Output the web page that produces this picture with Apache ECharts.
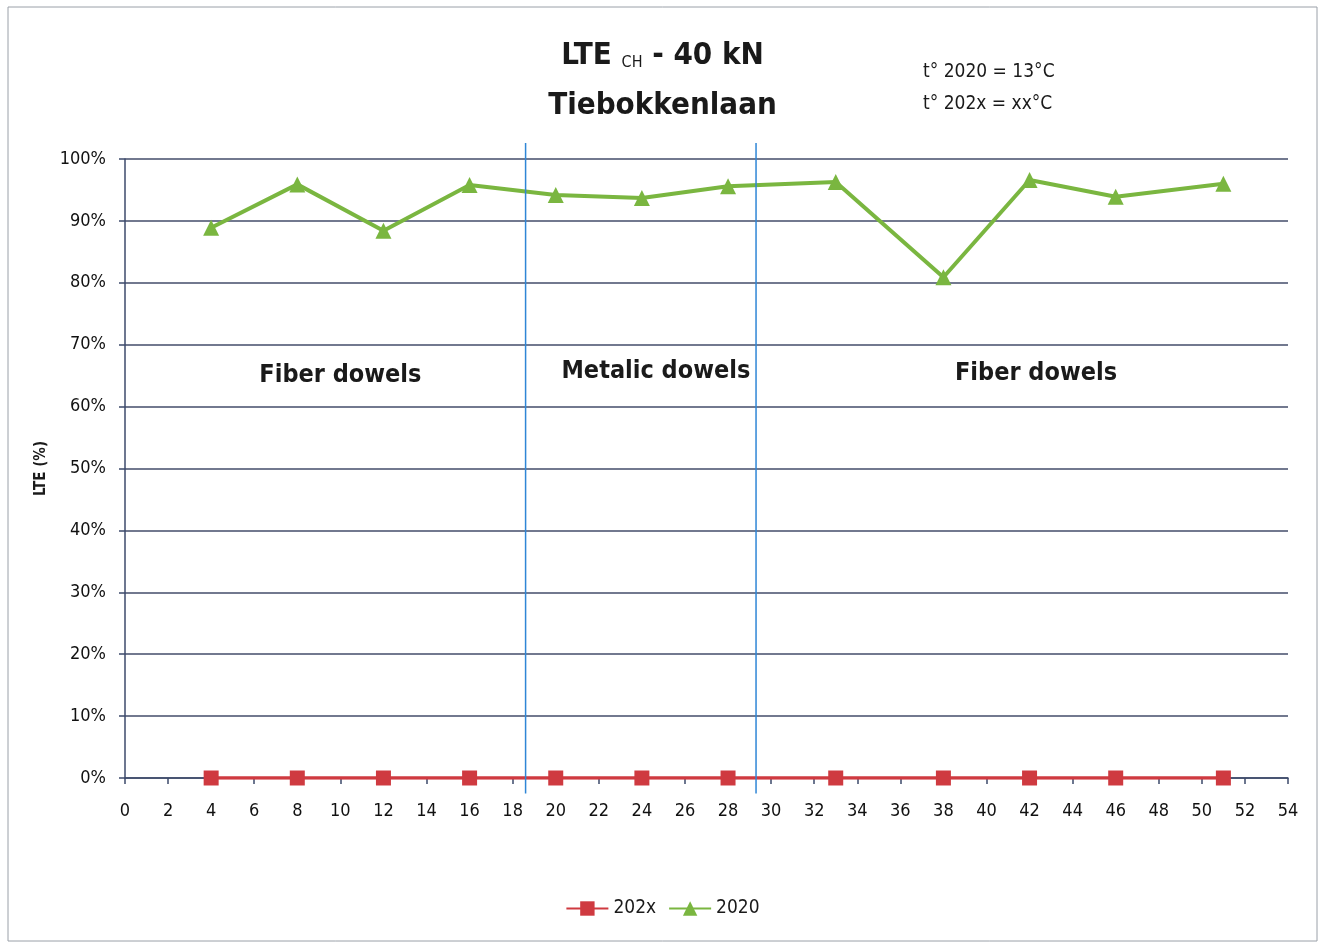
<!DOCTYPE html>
<html>
<head>
<meta charset="utf-8">
<script src="https://cdn.jsdelivr.net/npm/echarts@6/dist/echarts.min.js"></script>
<style>html,body{margin:0;padding:0;background:#fff}#c{width:1325px;height:945px}</style>
</head>
<body>
<div id="c"></div>
<script>
const xPositions = [4, 8, 12, 16, 20, 24, 28, 33, 38, 42, 46, 51];
const values202x = [0, 0, 0, 0, 0, 0, 0, 0, 0, 0, 0, 0];
const values2020 = [88.9, 95.9, 88.4, 95.8, 94.2, 93.7, 95.6, 96.3, 80.9, 96.6, 93.9, 96.0];
const dividers = [18.6, 29.3];
const zoneLabels = [
  { text: 'Fiber dowels', x: 10, y: 65 },
  { text: 'Metalic dowels', x: 24.65, y: 65.6 },
  { text: 'Fiber dowels', x: 42.3, y: 65.3 }
];
const seriesNames = ['202x', '2020'];

const narrow = "'DejaVu Sans Condensed', 'Liberation Sans Narrow', sans-serif";
const chart = echarts.init(document.getElementById('c'));
const pair = (xs, ys) => xs.map((x, i) => [x, ys[i]]);

chart.setOption({
  animation: false,
  backgroundColor: '#fff',
  title: {
    text: '{a|LTE }{s|CH}{a| - 40 kN}\n{a|Tiebokkenlaan}',
    left: 'center',
    top: 26,
    textStyle: {
      rich: {
        a: { fontFamily: narrow, fontWeight: 'bold', fontSize: 31, color: '#1a1a1a', lineHeight: 50 },
        s: { fontFamily: narrow, fontWeight: 'normal', fontSize: 16, color: '#1a1a1a', lineHeight: 20, padding: [13, 0, 0, 0] }
      }
    }
  },
  legend: {
    bottom: 22,
    left: 'center',
    itemWidth: 42,
    itemHeight: 18,
    itemGap: 12,
    textStyle: { fontFamily: narrow, fontSize: 19, color: '#1a1a1a' },
    data: seriesNames
  },
  grid: { left: 125, right: 37, top: 159, bottom: 167 },
  xAxis: {
    type: 'value',
    min: 0, max: 54, interval: 2,
    axisLine: { show: true, onZero: false, lineStyle: { color: '#3d4a6b', width: 1.5 } },
    axisTick: { show: true, length: 6, lineStyle: { color: '#3d4a6b', width: 1.5 } },
    axisLabel: { margin: 24, fontFamily: narrow, fontSize: 18, color: '#111' },
    splitLine: { show: false }
  },
  yAxis: {
    type: 'value',
    min: 0, max: 100, interval: 10,
    name: 'LTE (%)',
    nameLocation: 'middle',
    nameGap: 72,
    nameTextStyle: { fontFamily: narrow, fontWeight: 'bold', fontSize: 15, color: '#1a1a1a' },
    axisLine: { show: true, lineStyle: { color: '#3d4a6b', width: 1.5 } },
    axisTick: { show: true, length: 6, lineStyle: { color: '#3d4a6b', width: 1.5 } },
    axisLabel: { margin: 19, formatter: '{value}%', fontFamily: narrow, fontSize: 18, color: '#111' },
    splitLine: { show: true, lineStyle: { color: '#434c6a', width: 1.5 } }
  },
  series: [
    {
      name: seriesNames[0],
      type: 'line',
      data: pair(xPositions, values202x),
      symbol: 'rect',
      symbolSize: 15,
      itemStyle: { color: '#cf3a40' },
      lineStyle: { color: '#cf3a40', width: 3.5 },
      z: 3
    },
    {
      name: seriesNames[1],
      type: 'line',
      data: pair(xPositions, values2020),
      symbol: 'triangle',
      symbolSize: 16,
      itemStyle: { color: '#7ab640' },
      lineStyle: { color: '#7ab640', width: 4 },
      z: 4,
      markPoint: {
        symbol: 'rect',
        symbolSize: 0,
        label: { show: true, position: 'inside', fontFamily: narrow, fontWeight: 'bold', fontSize: 25, color: '#1a1a1a', formatter: p => p.name },
        data: zoneLabels.map(z => ({ name: z.text, coord: [z.x, z.y], value: z.text }))
      }
    }
  ]
});

// vertical blue divider lines, placed through the axis scale
const g = [];
dividers.forEach(d => {
  const top = chart.convertToPixel({ gridIndex: 0 }, [d, 102.6]);
  const bot = chart.convertToPixel({ gridIndex: 0 }, [d, -2.5]);
  g.push({ type: 'line', shape: { x1: top[0], y1: top[1], x2: bot[0], y2: bot[1] }, style: { stroke: '#2f86d6', lineWidth: 1.5 }, z: 10, silent: true });
});
g.push({ type: 'text', left: 923, top: 56, style: { text: 't° 2020 = 13°C\nt° 202x = xx°C', fontFamily: narrow, fontSize: 19, lineHeight: 32, fill: '#1a1a1a' }, silent: true });
g.push({ type: 'rect', shape: { x: 8, y: 7, width: 1309, height: 934 }, style: { fill: 'none', stroke: '#9aa0a8', lineWidth: 1 }, silent: true });
chart.setOption({ graphic: g });
</script>
</body>
</html>
